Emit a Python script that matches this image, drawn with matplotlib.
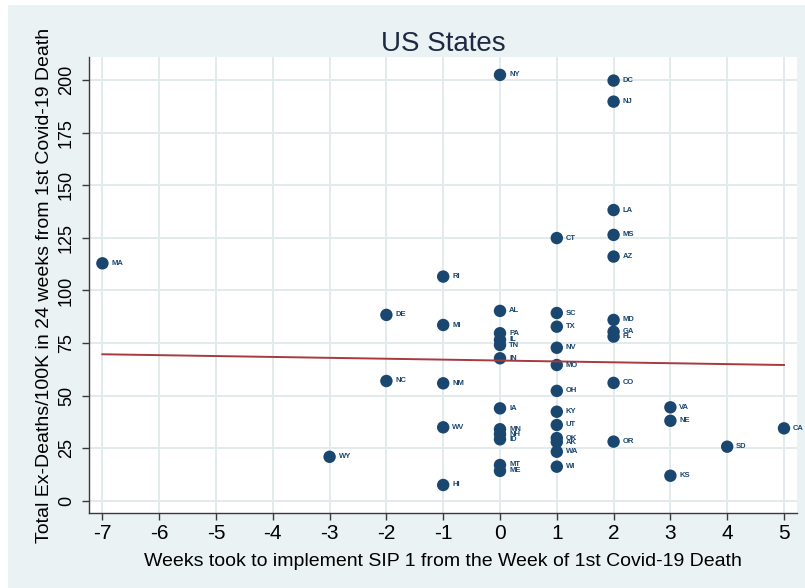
import matplotlib
matplotlib.use("Agg")
import matplotlib.pyplot as plt
from matplotlib.patches import Rectangle

# ---- data: weeks to SIP vs total excess deaths per 100K ----
states = ["MA", "WY", "DE", "NC", "RI", "MI", "NM", "WV", "HI",
          "NY", "AL", "PA", "IL", "TN", "IN", "IA", "MN", "NH", "ID", "MT", "ME",
          "CT", "SC", "TX", "NV", "MO", "OH", "KY", "UT", "OK", "AK", "WA", "WI",
          "DC", "NJ", "LA", "MS", "AZ", "MD", "GA", "FL", "CO", "OR",
          "VA", "NE", "KS", "SD", "CA"]
weeks = [-7, -3, -2, -2, -1, -1, -1, -1, -1,
         0, 0, 0, 0, 0, 0, 0, 0, 0, 0, 0, 0,
         1, 1, 1, 1, 1, 1, 1, 1, 1, 1, 1, 1,
         2, 2, 2, 2, 2, 2, 2, 2, 2, 2,
         3, 3, 3, 4, 5]
ex_deaths = [112.9, 21.0, 88.4, 57.0, 106.6, 83.6, 55.9, 35.0, 7.6,
             202.4, 90.3, 79.7, 76.5, 74.1, 67.8, 44.0, 34.1, 31.7, 29.3, 17.1, 14.3,
             124.9, 89.3, 82.8, 72.8, 64.6, 52.3, 42.4, 36.1, 29.9, 28.0, 23.4, 16.3,
             199.7, 189.7, 138.2, 126.4, 116.1, 86.0, 80.4, 78.1, 56.1, 28.2,
             44.5, 38.1, 12.0, 25.8, 34.5]

# fitted values line (endpoints)
fit_x = [-7, 5]
fit_y = [69.7, 64.6]

x_ticks = [-7, -6, -5, -4, -3, -2, -1, 0, 1, 2, 3, 4, 5]
y_ticks = [0, 25, 50, 75, 100, 125, 150, 175, 200]

plt.rcParams["axes.unicode_minus"] = False
FONT = "Liberation Sans"

BG = "#EAF2F3"
NAVY = "#1A476F"
FIT = "#A8393D"

W, H = 805, 588
fig = plt.figure(figsize=(W / 100, H / 100), dpi=100)
fig.patch.set_facecolor("white")
fig.patches.append(Rectangle((8 / W, 0), 1 - 8 / W, 1 - 5 / H,
                             transform=fig.transFigure, facecolor=BG,
                             edgecolor="none", zorder=-10))

left, right, top, bottom = 89, 797, 57, 513
ax = fig.add_axes([left / W, 1 - bottom / H, (right - left) / W, (bottom - top) / H])
ax.set_facecolor("white")

ax.set_xlim(-7.236, 5.229)
ax.set_ylim(-5.7, 210.9)

ax.set_xticks(x_ticks)
ax.set_xticklabels([str(v) for v in x_ticks], fontfamily=FONT, fontsize=15)
ax.set_yticks(y_ticks)
ax.set_yticklabels([str(v) for v in y_ticks], rotation=90, va="center",
                   fontfamily=FONT, fontsize=13)
ax.grid(True, color="#E3EAEC", linewidth=1.4, zorder=0)
ax.set_axisbelow(True)

for side in ("top", "right"):
    ax.spines[side].set_visible(False)
for side in ("left", "bottom"):
    ax.spines[side].set_color("#3A3A3A")
    ax.spines[side].set_linewidth(1.0)

ax.tick_params(axis="x", length=5, width=1.0, color="#3A3A3A", pad=3)
ax.tick_params(axis="y", length=5, width=1.0, color="#3A3A3A", pad=5)

ax.scatter(weeks, ex_deaths, s=80, color=NAVY, edgecolors="none", zorder=3, clip_on=False)
ax.plot(fit_x, fit_y, color=FIT, linewidth=1.4, zorder=4)

for st, xv, yv in zip(states, weeks, ex_deaths):
    ax.annotate(st, (xv, yv), xytext=(6.5, 0), textcoords="offset points",
                ha="left", va="center", fontsize=5.5, fontweight="bold",
                fontfamily=FONT, color=NAVY, zorder=5, annotation_clip=False)

ax.set_title("US States", fontfamily=FONT, fontsize=20, color="#1E2A44", pad=3)
ax.set_xlabel("Weeks took to implement SIP 1 from the Week of 1st Covid-19 Death",
              fontfamily=FONT, fontsize=14, labelpad=7)
ax.set_ylabel("Total Ex-Deaths/100K in 24 weeks from 1st Covid-19 Death",
              fontfamily=FONT, fontsize=14, labelpad=4)

fig.savefig("out.png", dpi=100, facecolor=fig.get_facecolor())
